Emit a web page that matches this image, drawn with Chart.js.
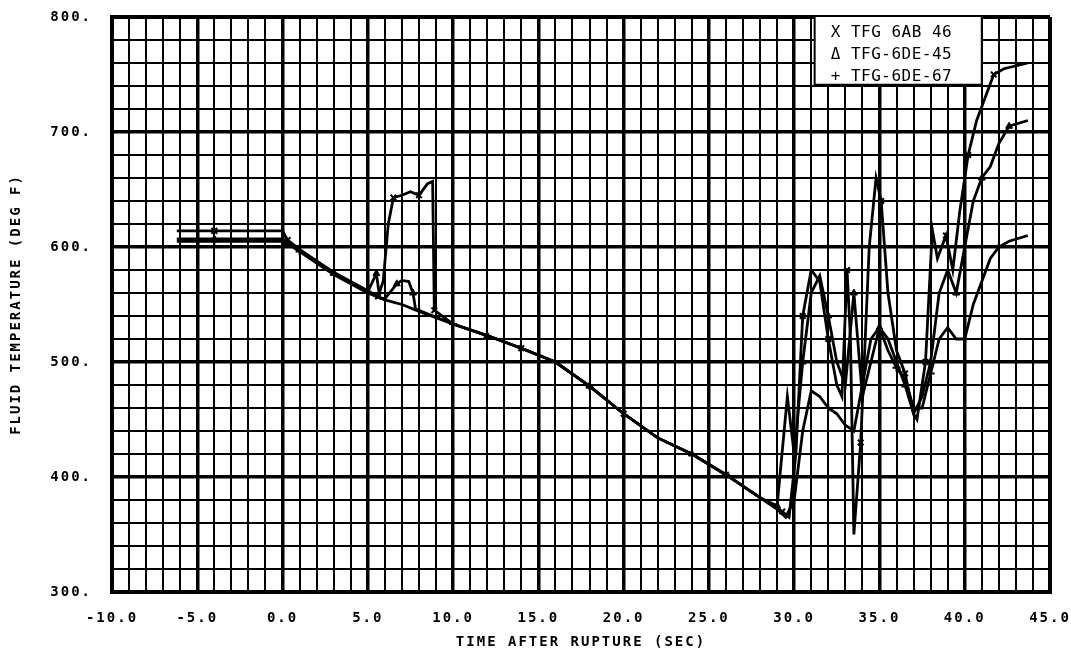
<!DOCTYPE html>
<html>
<head>
<meta charset="utf-8">
<script src="https://cdn.jsdelivr.net/npm/chart.js@4.4.0/dist/chart.umd.min.js"></script>
<style>
  html, body { margin: 0; padding: 0; background: #fff; }
  #wrap { width: 1071px; height: 653px; }
</style>
</head>
<body>
<div id="wrap"><canvas id="myChart" width="1071" height="653"></canvas></div>
<script>
// time after rupture (sec) and fluid temperature (deg F)
var s1Time = [-6.2, -4, -2, 0, 0.3, 1, 2, 3, 4, 5, 5.6, 5.9, 6.2, 6.5, 7, 7.5, 8, 8.5, 8.8, 8.9, 10, 12, 14, 16, 18, 20, 22, 24, 26, 28, 28.8,
              29.3, 29.7, 30.1, 30.5, 31, 31.5, 32, 32.5, 32.8, 33.1, 33.3, 33.5, 33.9, 34.4, 34.8, 35.1, 35.5, 36, 36.5, 37, 37.2, 37.7, 38.1, 38.4, 38.9, 39.3, 39.7, 40.2, 40.7, 41.2, 41.7, 42.3, 43.7];
var s1Temp = [614, 614, 614, 614, 606, 598, 588, 578, 570, 562, 557, 570, 620, 643, 645, 648, 645, 655, 657, 545, 533, 523, 512, 500, 479, 455, 434, 420, 402, 382, 374,
              370, 365, 420, 540, 580, 570, 520, 480, 470, 580, 520, 350, 430, 600, 660, 640, 560, 510, 490, 455, 450, 500, 615, 590, 610, 580, 630, 680, 710, 730, 750, 755, 760];

var s2Time = [-6.2, -4, -2, 0, 0.3, 1, 2, 3, 4, 5, 5.5, 5.7, 6, 6.7, 7, 7.4, 7.65, 7.8, 10, 12, 14, 16, 18, 20, 22, 24, 26, 28, 29,
              29.6, 30, 30.5, 31, 31.5, 32, 32.5, 33, 33.5, 34, 34.5, 35, 35.5, 36, 36.5, 37, 37.5, 38, 38.5, 39, 39.5, 40, 40.5, 41, 41.5, 42, 42.6, 43.7];
var s2Temp = [607, 607, 607, 607, 604, 597, 587, 577, 569, 561, 577, 556, 555, 568, 571, 570, 560, 546, 533, 523, 512, 500, 479, 455, 434, 420, 402, 382, 375,
              470, 420, 500, 560, 575, 540, 500, 480, 560, 470, 500, 530, 520, 500, 480, 455, 470, 500, 560, 580, 560, 600, 640, 660, 670, 690, 705, 710];

var s3Time = [-6.2, -4, -2, 0, 0.3, 1, 2, 3, 4, 5, 6, 7, 8, 10, 12, 14, 16, 18, 20, 22, 24, 26, 28, 29,
              29.5, 30, 30.5, 31, 31.5, 32, 32.5, 33, 33.5, 34, 34.5, 35, 35.5, 36, 36.5, 37, 37.5, 38, 38.5, 39, 39.5, 40, 40.5, 41, 41.5, 42, 42.6, 43.7];
var s3Temp = [605, 605, 605, 605, 603, 596, 586, 576, 568, 560, 554, 550, 544, 533, 523, 512, 500, 479, 455, 434, 420, 402, 382, 372,
              365, 380, 440, 475, 470, 460, 455, 445, 440, 480, 520, 530, 510, 495, 485, 460, 460, 490, 520, 530, 520, 520, 550, 570, 590, 600, 605, 610];

var xTicks = [-10, -5, 0, 5, 10, 15, 20, 25, 30, 35, 40, 45];
var yTicks = [300, 400, 500, 600, 700, 800];
var legendLines = ['X TFG 6AB 46', '\u0394 TFG-6DE-45', '+ TFG-6DE-67'];

function pts(t, v) {
    return t.map(function (x, i) { return { x: x, y: v[i] }; });
}

var legendBox = {
    id: 'legendBox',
    beforeDraw: function (chart) {
        chart.ctx.letterSpacing = '2px';
    },
    beforeDatasetsDraw: function (chart) {
        var ctx = chart.ctx, sx = chart.scales.x, sy = chart.scales.y;
        var l = sx.getPixelForValue(31.2), r = sx.getPixelForValue(41);
        var t = sy.getPixelForValue(800), b = sy.getPixelForValue(741);
        ctx.save();
        ctx.fillStyle = '#fff';
        ctx.fillRect(l, t, r - l, b - t);
        ctx.strokeStyle = '#000';
        ctx.lineWidth = 2;
        ctx.beginPath();
        ctx.moveTo(l, t); ctx.lineTo(l, b); ctx.lineTo(r, b); ctx.lineTo(r, t);
        ctx.stroke();
        ctx.fillStyle = '#000';
        ctx.font = '16px "DejaVu Sans Mono"';
        ctx.letterSpacing = '0.5px';
        ctx.textBaseline = 'middle';
        legendLines.forEach(function (s, i) {
            ctx.fillText(s, l + 16, t + 16 + i * 22);
        });
        ctx.restore();
    }
};

function markEvery(n) {
    return function (c) { return c.dataIndex % n === 1 ? 4 : 0; };
}

var font = { family: '"DejaVu Sans Mono"', size: 14, weight: 'bold' };

var ctx = document.getElementById('myChart').getContext('2d');
var myChart = new Chart(ctx, {
    type: 'line',
    data: {
        datasets: [{
            label: 'TFG 6AB 46',
            data: pts(s1Time, s1Temp),
            borderColor: '#000',
            backgroundColor: '#000',
            borderWidth: 2.8,
            pointStyle: 'crossRot',
            pointRadius: markEvery(3),
            pointBorderWidth: 2,
            tension: 0
        }, {
            label: 'TFG-6DE-45',
            data: pts(s2Time, s2Temp),
            borderColor: '#000',
            backgroundColor: '#000',
            borderWidth: 2.8,
            pointStyle: 'triangle',
            pointRadius: markEvery(3),
            pointBorderWidth: 1,
            tension: 0
        }, {
            label: 'TFG-6DE-67',
            data: pts(s3Time, s3Temp),
            borderColor: '#000',
            backgroundColor: '#000',
            borderWidth: 2.8,
            pointStyle: 'cross',
            pointRadius: markEvery(4),
            pointBorderWidth: 2,
            tension: 0
        }]
    },
    options: {
        responsive: false,
        animation: false,
        devicePixelRatio: 1,
        layout: { padding: { top: 17, right: 21, left: 0, bottom: 0 } },
        plugins: { legend: { display: false }, tooltip: { enabled: false } },
        scales: {
            x: {
                type: 'linear',
                min: -10,
                max: 45,
                afterFit: function (s) {
                    s.height = 61;
                    s.paddingLeft = 0;
                    s.paddingRight = 0;
                },
                afterBuildTicks: function (s) {
                    var t = [];
                    for (var v = -10; v <= 45; v++) t.push({ value: v });
                    s.ticks = t;
                },
                ticks: {
                    autoSkip: false,
                    maxRotation: 0,
                    padding: 18,
                    color: '#000',
                    font: font,
                    callback: function (v) { return xTicks.indexOf(v) >= 0 ? v.toFixed(1) : ''; }
                },
                grid: {
                    color: '#000',
                    drawTicks: false,
                    lineWidth: function (c) {
                        var v = c.tick.value;
                        if (v === -10 || v === 45) return 4;
                        return v % 5 === 0 ? 3.5 : 2;
                    }
                },
                border: { display: true, color: '#000', width: 4 },
                title: {
                    display: true,
                    text: 'TIME AFTER RUPTURE (SEC)',
                    color: '#000',
                    font: font,
                    padding: { top: 0, bottom: 2 }
                }
            },
            y: {
                type: 'linear',
                min: 300,
                max: 800,
                afterFit: function (s) {
                    s.width = 112;
                    s.paddingTop = 0;
                    s.paddingBottom = 0;
                },
                afterBuildTicks: function (s) {
                    var t = [];
                    for (var v = 300; v <= 800; v += 20) t.push({ value: v });
                    s.ticks = t;
                },
                ticks: {
                    autoSkip: false,
                    padding: 20,
                    color: '#000',
                    font: font,
                    callback: function (v) { return yTicks.indexOf(v) >= 0 ? v + '.' : ''; }
                },
                grid: {
                    color: '#000',
                    drawTicks: false,
                    lineWidth: function (c) {
                        var v = c.tick.value;
                        if (v === 300 || v === 800) return 4;
                        return v % 100 === 0 ? 3.5 : 2;
                    }
                },
                border: { display: true, color: '#000', width: 4 },
                title: {
                    display: true,
                    text: 'FLUID TEMPERATURE (DEG F)',
                    color: '#000',
                    font: font,
                    padding: { top: 8, bottom: 0 }
                }
            }
        }
    },
    plugins: [legendBox]
});
</script>
</body>
</html>
